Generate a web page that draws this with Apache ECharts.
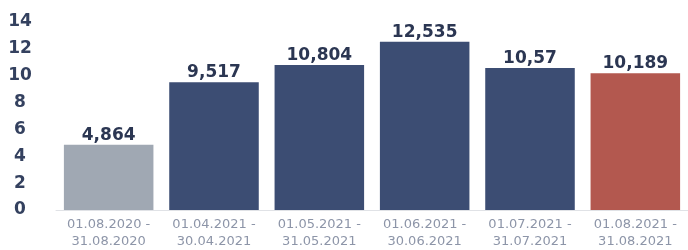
<!DOCTYPE html>
<html style="height:100%">
<head>
  <meta charset="UTF-8">
  <title>Monthly values</title>
  <script src="https://cdn.jsdelivr.net/npm/echarts/dist/echarts.min.js"></script>
  <style>
    html, body { margin: 0; padding: 0; background: #fff; }
    #chart { width: 688px; height: 250px; }
  </style>
</head>
<body>
<div id="chart"></div>
<script>
  // periods shown on the x axis (two lines each)
  var periods = [
    '01.08.2020 -\n31.08.2020',
    '01.04.2021 -\n30.04.2021',
    '01.05.2021 -\n31.05.2021',
    '01.06.2021 -\n30.06.2021',
    '01.07.2021 -\n31.07.2021',
    '01.08.2021 -\n31.08.2021'
  ];
  var values = [4.864, 9.517, 10.804, 12.535, 10.57, 10.189];
  var barColors = ['#a0a8b3', '#3c4d73', '#3c4d73', '#3c4d73', '#3c4d73', '#b3584f'];

  var myChart = echarts.init(document.getElementById('chart'));

  var option = {
    animation: false,
    grid: { left: 56, right: -9, top: 22, bottom: 40 },
    xAxis: {
      type: 'category',
      data: periods,
      axisLine: { show: true, lineStyle: { color: '#e0e2e6' } },
      axisTick: { show: false },
      axisLabel: {
        color: '#8d95a8',
        fontFamily: 'DejaVu Sans',
        fontSize: 13,
        lineHeight: 17,
        margin: 6,
        interval: 0
      }
    },
    yAxis: {
      type: 'value',
      min: 0,
      max: 14,
      interval: 2,
      axisLine: { show: false },
      axisTick: { show: false },
      splitLine: { show: false },
      axisLabel: {
        color: '#34415f',
        fontFamily: 'DejaVu Sans',
        fontWeight: 'bold',
        fontSize: 17,
        align: 'center',
        margin: 36
      }
    },
    series: [{
      type: 'bar',
      barCategoryGap: '15%',
      data: values.map(function (v, i) {
        return { value: v, itemStyle: { color: barColors[i] } };
      }),
      label: {
        show: true,
        position: 'top',
        distance: 1,
        color: '#2b3652',
        fontFamily: 'DejaVu Sans',
        fontWeight: 'bold',
        fontSize: 17,
        formatter: function (p) { return String(p.value).replace('.', ','); }
      }
    }]
  };

  myChart.setOption(option);
</script>
</body>
</html>
